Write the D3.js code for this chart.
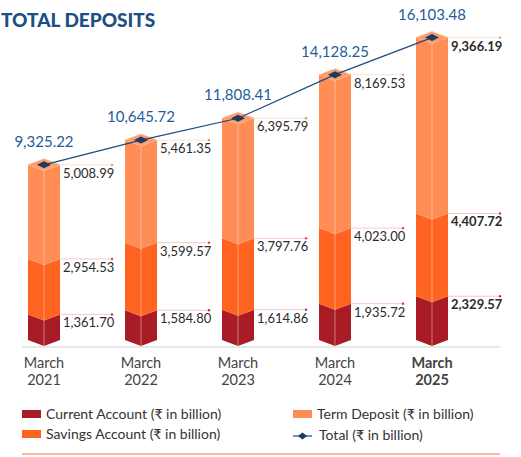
<!DOCTYPE html>
<html>
<head>
<meta charset="utf-8">
<script src="https://cdn.jsdelivr.net/npm/d3@7"></script>
<style>
  body { margin: 0; background: #fff; }
  svg { font-family: Lato, "Open Sans", sans-serif; }
</style>
</head>
<body>
<svg id="chart" style="width:521px;height:457px"></svg>
<script>
var categories = ["2021", "2022", "2023", "2024", "2025"];
var currentAcc = [1361.70, 1584.80, 1614.86, 1935.72, 2329.57];
var savingsAcc = [2954.53, 3599.57, 3797.76, 4023.00, 4407.72];
var termDep = [5008.99, 5461.35, 6395.79, 8169.53, 9366.19];
var totals = [9325.22, 10645.72, 11808.41, 14128.25, 16103.48];

d3.select(window).on('load', init);

function init() {
  var svg = d3.select('#chart');
  var fmt = d3.format(",.2f");

  var colors = ["#a91c26", "#ff6320", "#ff8d55"];
  var topColor = "#ff9d68";
  var dotColors = ["#d8262b", "#e8342c", "#ff8d55"];
  var half = 16, depth = 6;

  var xScale = d3.scalePoint()
      .domain(categories)
      .range([44, 432]);

  var yScale = d3.scaleLinear()
      .domain([0, 18000])
      .range([340, 340 - 18000 * 0.01878]);

  // title
  svg.append("text")
    .attr("x", 1).attr("y", 27)
    .attr("fill", "#1c4f86")
    .attr("font-size", "19px")
    .attr("font-weight", 900)
    .text("TOTAL DEPOSITS");

  // axis line
  svg.append("line")
    .attr("x1", 22).attr("x2", 500)
    .attr("y1", 347).attr("y2", 347)
    .attr("stroke", "#cfcfcf").attr("stroke-width", 1);

  var rows = categories.map(function(c, i) {
    return {cat: c, i: i, segs: [currentAcc[i], savingsAcc[i], termDep[i]], total: totals[i]};
  });

  var bars = svg.append("g").selectAll("g")
    .data(rows).enter().append("g");

  bars.each(function(d) {
    var g = d3.select(this);
    var cx = xScale(d.cat);
    var c0 = 0;
    d.segs.forEach(function(v, k) {
      var c1 = c0 + v;
      var yt = yScale(c1), yb = yScale(c0);
      var pts = [[cx - half, yt], [cx, yt + depth], [cx + half, yt],
                 [cx + half, yb], [cx, yb + depth], [cx - half, yb]];
      g.append("polygon")
        .attr("points", pts.join(" "))
        .attr("fill", colors[k]);
      c0 = c1;
    });
    var yTop = yScale(d.total);
    g.append("polygon")
      .attr("points", [[cx - half, yTop], [cx, yTop - depth], [cx + half, yTop], [cx, yTop + depth]].join(" "))
      .attr("fill", topColor)
      .attr("stroke", "#ffb58c").attr("stroke-width", 0.6);
    g.append("line")
      .attr("x1", cx).attr("x2", cx)
      .attr("y1", yTop + depth).attr("y2", yScale(0) + depth)
      .attr("stroke", "#fff").attr("stroke-opacity", 0.4).attr("stroke-width", 1);

    // segment labels
    c0 = 0;
    d.segs.forEach(function(v, k) {
      var c1 = c0 + v;
      var yl = yScale(c1);
      g.append("line")
        .attr("x1", cx + half).attr("x2", cx + 68)
        .attr("y1", yl).attr("y2", yl)
        .attr("stroke", dotColors[k]).attr("stroke-opacity", 0.25).attr("stroke-width", 1);
      g.append("circle")
        .attr("cx", cx + 68).attr("cy", yl).attr("r", 1.2)
        .attr("fill", dotColors[k]);
      g.append("text")
        .attr("x", cx + half + 3).attr("y", yl + 13)
        .attr("font-size", "13px")
        .attr("fill", "#2b2b2b")
        .attr("font-weight", d.i === 4 ? 700 : 400)
        .text(fmt(v));
      c0 = c1;
    });

    // category label
    var lab = g.append("text")
      .attr("x", cx).attr("text-anchor", "middle")
      .attr("font-size", "14.5px")
      .attr("fill", "#444")
      .attr("font-weight", d.i === 4 ? 700 : 400);
    lab.append("tspan").attr("x", cx).attr("y", 368).text("March");
    lab.append("tspan").attr("x", cx).attr("y", 385).text(d.cat);
  });

  // total line
  var line = d3.line()
    .x(function(d) { return xScale(d.cat); })
    .y(function(d) { return yScale(d.total); });

  svg.append("path")
    .datum(rows)
    .attr("d", line)
    .attr("fill", "none")
    .attr("stroke", "#1d4c7e")
    .attr("stroke-width", 1.2);

  svg.append("g").selectAll("polygon")
    .data(rows).enter().append("polygon")
    .attr("points", function(d) {
      var x = xScale(d.cat), y = yScale(d.total);
      return [[x - 7, y], [x, y - 3.5], [x + 7, y], [x, y + 3.5]].join(" ");
    })
    .attr("fill", "#173c66");

  svg.append("g").selectAll("text")
    .data(rows).enter().append("text")
    .attr("x", function(d) { return xScale(d.cat); })
    .attr("y", function(d) { return yScale(d.total) - 18; })
    .attr("text-anchor", "middle")
    .attr("font-size", "15px")
    .attr("fill", "#1f5c99")
    .text(function(d) { return fmt(d.total); });

  // legend
  var legend = [
    {label: "Current Account (\u20b9 in billion)", color: colors[0], x: 22, y: 419},
    {label: "Savings Account (\u20b9 in billion)", color: colors[1], x: 22, y: 439},
    {label: "Term Deposit (\u20b9 in billion)", color: colors[2], x: 293, y: 419}
  ];
  var lg = svg.append("g");
  legend.forEach(function(l) {
    lg.append("rect")
      .attr("x", l.x).attr("y", l.y - 9)
      .attr("width", 19).attr("height", 8)
      .attr("fill", l.color);
    lg.append("text")
      .attr("x", l.x + 24).attr("y", l.y)
      .attr("font-size", "14px").attr("fill", "#333")
      .text(l.label);
  });
  lg.append("line")
    .attr("x1", 293).attr("x2", 312).attr("y1", 436).attr("y2", 436)
    .attr("stroke", "#1d4c7e").attr("stroke-width", 1.2);
  lg.append("polygon")
    .attr("points", [[298, 436], [302.5, 432.5], [307, 436], [302.5, 439.5]].join(" "))
    .attr("fill", "#173c66");
  lg.append("text")
    .attr("x", 319).attr("y", 440)
    .attr("font-size", "14px").attr("fill", "#333")
    .text("Total (\u20b9 in billion)");

  // bottom rule
  svg.append("line")
    .attr("x1", 22).attr("x2", 500)
    .attr("y1", 454).attr("y2", 454)
    .attr("stroke", "#ffa178").attr("stroke-width", 1.5);
}
</script>
</body>
</html>
